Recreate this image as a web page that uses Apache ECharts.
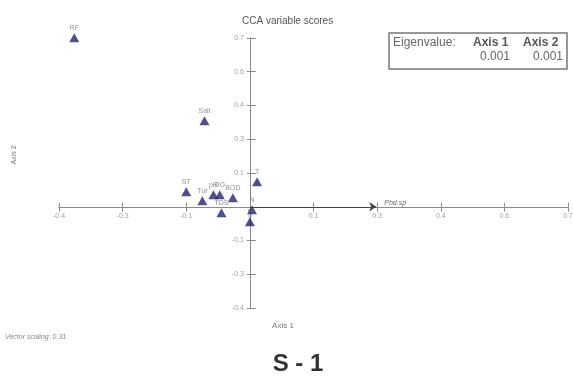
<!DOCTYPE html>
<html>
<head>
<meta charset="utf-8">
<script src="https://cdn.jsdelivr.net/npm/echarts@6/dist/echarts.min.js"></script>
<style>
  html, body { margin: 0; padding: 0; background: #fff; }
  #chart { width: 573px; height: 381px; }
</style>
</head>
<body>
<div id="chart"></div>
<script>
// CCA variable scores (axis 1 / axis 2)
const varNames    = ['RF', 'Salt', 'ST', 'Tur', 'pH', 'DO', 'BOD', 'TDS', 'T', 'N', 'P'];
const axis1Scores = [-0.414, -0.107, -0.150, -0.112, -0.086, -0.071, -0.040, -0.067, 0.017, 0.005, 0.000];
const axis2Scores = [0.751, 0.382, 0.067, 0.027, 0.053, 0.053, 0.040, -0.027, 0.111, -0.013, -0.067];

// species vector
const vectorName = 'Phd.sp';
const vectorEnd = [0.298, 0];

// ticks every 0.15, labels as printed on the original plot
const tickValues  = [-0.45, -0.3, -0.15, 0, 0.15, 0.3, 0.45, 0.6, 0.75];
const xTickLabels = ['-0.4', '-0.3', '-0.1', '0', '0.1', '0.3', '0.4', '0.6', '0.7'];
const yTickLabels = ['-0.4', '-0.3', '-0.1', '', '0.1', '0.3', '0.4', '0.6', '0.7'];

const eigenAxis1 = '0.001';
const eigenAxis2 = '0.001';

const AX_MIN = -0.45, AX_MAX = 0.75, AX_STEP = 0.15;
const lineColor = '#8a8a8a';
const labelColor = '#8a8a8a';
const font = 'Liberation Sans';

const chart = echarts.init(document.getElementById('chart'));

const baseAxis = {
  type: 'value',
  min: AX_MIN,
  max: AX_MAX,
  interval: AX_STEP,
  splitLine: { show: false },
  axisLabel: { show: false },
  axisLine: { onZero: true, onZeroAxisIndex: 0, lineStyle: { color: lineColor, width: 1 } },
};

// tick labels ride on the zero lines, so they are placed as label-only points
const tickLabelSeries = (points, labels, position, distance) => ({
  type: 'scatter',
  xAxisIndex: 0,
  yAxisIndex: 0,
  symbolSize: 0,
  silent: true,
  clip: false,
  data: points.map((p, i) => [p[0], p[1], labels[i]]),
  label: {
    show: true,
    position,
    distance,
    formatter: (p) => p.data[2],
    fontSize: 7,
    color: labelColor,
    fontFamily: font,
  },
});

const option = {
  animation: false,
  backgroundColor: '#fff',
  title: {
    text: 'CCA variable scores',
    left: 237,
    top: 11,
    textStyle: { fontSize: 10, fontWeight: 'normal', color: '#555', fontFamily: font },
  },
  grid: { left: 59, right: 5, top: 38, bottom: 73 },
  xAxis: [
    { ...baseAxis, position: 'bottom', axisTick: { length: 5, lineStyle: { color: lineColor } } },
    { ...baseAxis, position: 'top', axisTick: { length: 4, lineStyle: { color: lineColor } } },
  ],
  yAxis: [
    { ...baseAxis, position: 'left', axisTick: { length: 3, lineStyle: { color: lineColor } } },
    { ...baseAxis, position: 'right', axisTick: { length: 6, lineStyle: { color: lineColor } } },
  ],
  series: [
    tickLabelSeries(tickValues.map((v) => [v, 0]), xTickLabels, 'bottom', 6),
    tickLabelSeries(tickValues.map((v) => [0, v]), yTickLabels, 'left', 6),
    {
      type: 'lines',
      coordinateSystem: 'cartesian2d',
      xAxisIndex: 0,
      yAxisIndex: 0,
      data: [{ coords: [[0, 0], vectorEnd] }],
      symbol: ['none', 'arrow'],
      symbolSize: 7,
      lineStyle: { color: '#444', width: 1, opacity: 1 },
      label: {
        show: true,
        position: 'end',
        formatter: vectorName,
        fontSize: 7,
        fontStyle: 'italic',
        color: '#666',
        fontFamily: font,
        distance: 8,
        offset: [0, -4],
      },
      z: 3,
    },
    {
      type: 'scatter',
      xAxisIndex: 0,
      yAxisIndex: 0,
      clip: false,
      symbol: 'triangle',
      symbolSize: [10, 9],
      itemStyle: { color: '#23236e' },
      data: axis1Scores.map((x, i) => [x, axis2Scores[i], varNames[i]]),
      label: {
        show: true,
        position: 'top',
        distance: 2,
        formatter: (p) => p.data[2],
        fontSize: 7,
        color: '#777',
        fontFamily: font,
      },
      z: 4,
    },
  ],
  graphic: [
    // eigenvalue box
    {
      type: 'rect',
      shape: { x: 389, y: 33, width: 178, height: 36 },
      style: { fill: '#fff', stroke: '#777', lineWidth: 1.5 },
    },
    {
      type: 'text', x: 393, y: 37,
      style: { text: 'Eigenvalue:', fontSize: 12, fill: '#666', fontFamily: font },
    },
    {
      type: 'text', x: 473, y: 37,
      style: { text: 'Axis 1', fontSize: 12, fontWeight: 'bold', fill: '#555', fontFamily: font },
    },
    {
      type: 'text', x: 523, y: 37,
      style: { text: 'Axis 2', fontSize: 12, fontWeight: 'bold', fill: '#555', fontFamily: font },
    },
    {
      type: 'text', x: 510, y: 51,
      style: { text: eigenAxis1, fontSize: 12, fill: '#666', align: 'right', fontFamily: font },
    },
    {
      type: 'text', x: 563, y: 51,
      style: { text: eigenAxis2, fontSize: 12, fill: '#666', align: 'right', fontFamily: font },
    },
    // axis names and notes
    {
      type: 'text', x: 283, y: 326,
      style: { text: 'Axis 1', fontSize: 8, fill: '#777', align: 'center', verticalAlign: 'middle', fontFamily: font },
    },
    {
      type: 'text', x: 14, y: 155, rotation: Math.PI / 2,
      style: { text: 'Axis 2', fontSize: 7, fill: '#777', align: 'center', verticalAlign: 'middle', fontFamily: font },
    },
    {
      type: 'text', x: 5, y: 337,
      style: { text: 'Vector scaling: 0.31', fontSize: 7, fontStyle: 'italic', fill: '#888', verticalAlign: 'middle', fontFamily: font },
    },
    {
      type: 'text', x: 298, y: 364,
      style: { text: 'S - 1', fontSize: 24, fontWeight: 'bold', fill: '#333', align: 'center', verticalAlign: 'middle', fontFamily: font },
    },
  ],
};

chart.setOption(option);
</script>
</body>
</html>
